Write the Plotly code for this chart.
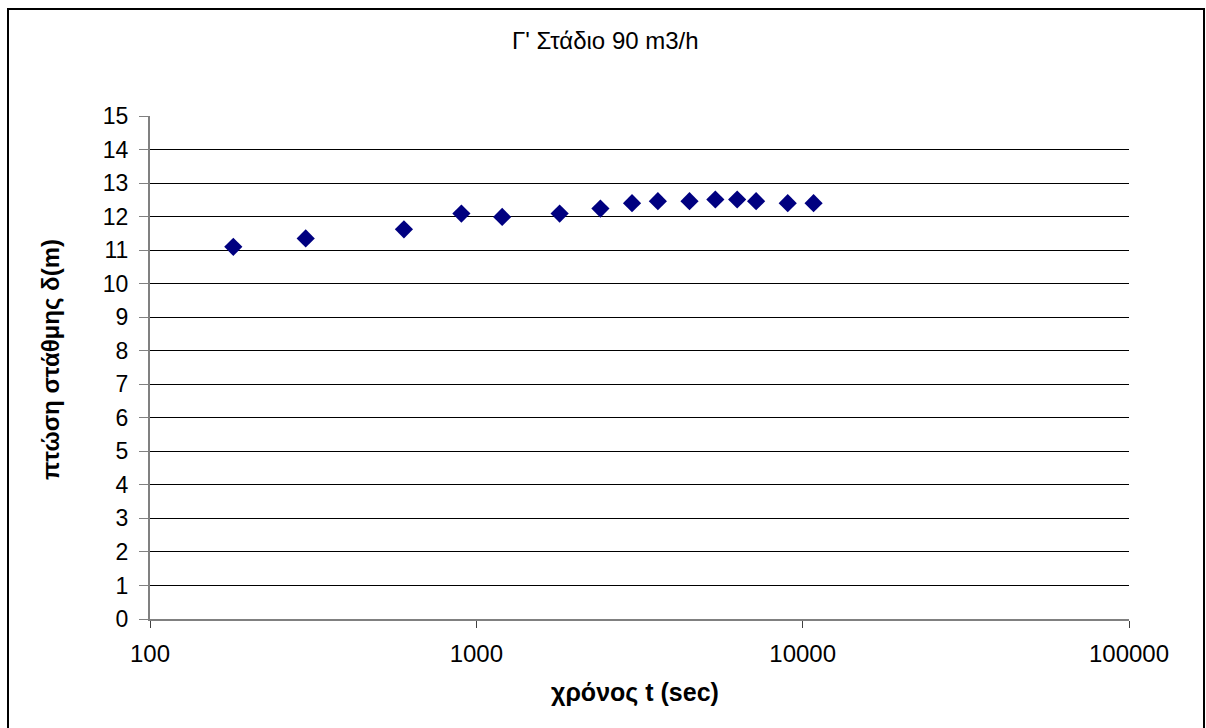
import plotly.graph_objects as go

time_sec = [180, 300, 600, 900, 1200, 1800, 2400, 3000, 3600, 4500, 5400, 6300, 7200, 9000, 10800]
drawdown_m = [11.10, 11.35, 11.62, 12.09, 11.99, 12.09, 12.24, 12.40, 12.46, 12.46, 12.51, 12.51, 12.46, 12.40, 12.40]
x_ticks = [100, 1000, 10000, 100000]
x_tick_labels = ["100", "1000", "10000", "100000"]
y_ticks = list(range(0, 16))

title_text = "Γ' Στάδιο 90 m3/h"
x_title = "χρόνος t (sec)"
y_title = "πτώση στάθμης δ(m)"

W, H = 1206, 728
L, R, T, B = 150, 77, 116, 109
font = "Liberation Sans, Arial, sans-serif"

fig = go.Figure()
fig.add_trace(go.Scatter(
    x=time_sec, y=drawdown_m, mode="markers",
    marker=dict(symbol="diamond", size=14, color="#000080", line=dict(width=0)),
    showlegend=False, cliponaxis=False,
))

fig.update_layout(
    width=W, height=H,
    margin=dict(l=L, r=R, t=T, b=B, pad=0),
    paper_bgcolor="white", plot_bgcolor="white",
    font=dict(family=font, color="black"),
    showlegend=False,
    xaxis=dict(
        type="log", range=[2, 5],
        tickvals=x_ticks, ticktext=x_tick_labels,
        ticks="outside", ticklen=7, tickcolor="#404040", tickwidth=1,
        showline=True, linecolor="#808080", linewidth=2,
        showgrid=False, zeroline=False,
        tickfont=dict(size=24, family=font, color="black"),
        ticklabelstandoff=5,
    ),
    yaxis=dict(
        range=[0, 15], tickvals=y_ticks,
        ticks="outside", ticklen=9, tickcolor="#808080", tickwidth=1,
        showline=True, linecolor="#808080", linewidth=2,
        showgrid=True, gridcolor="black", gridwidth=1,
        zeroline=False,
        tickfont=dict(size=23, family=font, color="black"),
        ticklabelstandoff=6,
    ),
    shapes=[dict(type="rect", xref="paper", yref="paper",
                 x0=(8 - L) / (W - L - R), x1=(1204 - L) / (W - L - R),
                 y0=-(H + 20 - (H - B)) / (H - T - B), y1=(H - 9 - B) / (H - T - B),
                 line=dict(color="black", width=2), fillcolor="rgba(0,0,0,0)", layer="below")],
    annotations=[
        dict(text=title_text, xref="paper", yref="paper",
             x=(605 - L) / (W - L - R), y=(H - 41 - B) / (H - T - B),
             xanchor="center", yanchor="middle", showarrow=False,
             font=dict(size=24, family=font, color="black")),
        dict(text="<b>" + x_title + "</b>", xref="paper", yref="paper",
             x=(635 - L) / (W - L - R), y=(H - 692 - B) / (H - T - B),
             xanchor="center", yanchor="middle", showarrow=False,
             font=dict(size=25, family=font, color="black")),
        dict(text="<b>" + y_title + "</b>", xref="paper", yref="paper",
             x=(50 - L) / (W - L - R), y=(H - 360 - B) / (H - T - B),
             xanchor="center", yanchor="middle", showarrow=False, textangle=-90,
             font=dict(size=24, family=font, color="black")),
    ],
)

fig.write_html("out.html")
